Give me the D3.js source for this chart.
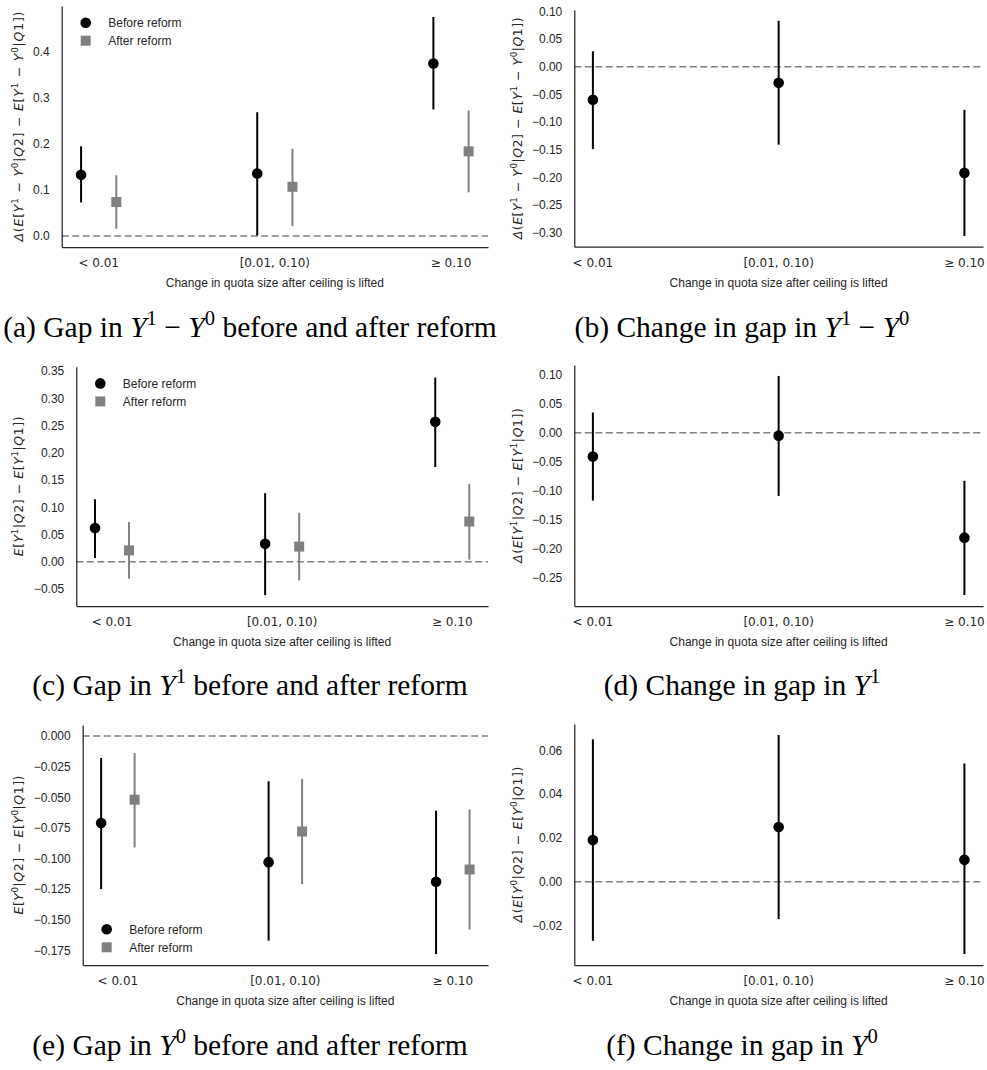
<!DOCTYPE html>
<html>
<head>
<meta charset="utf-8">
<script src="https://cdn.jsdelivr.net/npm/d3@7"></script>
<style>
  body { margin: 0; background: #fff; }
  svg { display: block; }
  text { white-space: pre; }
</style>
</head>
<body>
<div id="chart"></div>
<script>
// Categories (x axis), written with $...$ for the math parts
const categories = ["$< 0.01$", "$[0.01, 0.10)$", "$≥ 0.10$"];
const xTitle = "Change in quota size after ceiling is lifted";

// (a) gap in Y1 - Y0, before / after reform
const aBefore   = [0.133, 0.136, 0.375];
const aBeforeLo = [0.073, 0.001, 0.275];
const aBeforeHi = [0.195, 0.269, 0.476];
const aAfter    = [0.074, 0.107, 0.184];
const aAfterLo  = [0.016, 0.022, 0.095];
const aAfterHi  = [0.132, 0.190, 0.273];
const aTicks = [0.0, 0.1, 0.2, 0.3, 0.4];

// (b) change in gap in Y1 - Y0
const bChange   = [-0.060, -0.029, -0.192];
const bChangeLo = [-0.149, -0.141, -0.306];
const bChangeHi = [0.028, 0.083, -0.078];
const bTicks = [0.10, 0.05, 0.00, -0.05, -0.10, -0.15, -0.20, -0.25, -0.30];

// (c) gap in Y1, before / after reform
const cBefore   = [0.062, 0.033, 0.257];
const cBeforeLo = [0.007, -0.061, 0.174];
const cBeforeHi = [0.115, 0.126, 0.338];
const cAfter    = [0.021, 0.028, 0.074];
const cAfterLo  = [-0.031, -0.034, 0.004];
const cAfterHi  = [0.073, 0.090, 0.143];
const cTicks = [0.35, 0.30, 0.25, 0.20, 0.15, 0.10, 0.05, 0.00, -0.05];

// (d) change in gap in Y1
const dChange   = [-0.041, -0.005, -0.181];
const dChangeLo = [-0.117, -0.109, -0.280];
const dChangeHi = [0.035, 0.098, -0.083];
const dTicks = [0.10, 0.05, 0.00, -0.05, -0.10, -0.15, -0.20, -0.25];

// (e) gap in Y0, before / after reform
const eBefore   = [-0.071, -0.103, -0.119];
const eBeforeLo = [-0.125, -0.167, -0.178];
const eBeforeHi = [-0.018, -0.037, -0.061];
const eAfter    = [-0.052, -0.078, -0.109];
const eAfterLo  = [-0.091, -0.121, -0.158];
const eAfterHi  = [-0.014, -0.035, -0.060];
const eTicks = [0.000, -0.025, -0.050, -0.075, -0.100, -0.125, -0.150, -0.175];

// (f) change in gap in Y0
const fChange   = [0.019, 0.025, 0.010];
const fChangeLo = [-0.027, -0.017, -0.033];
const fChangeHi = [0.065, 0.067, 0.054];
const fTicks = [0.06, 0.04, 0.02, 0.00, -0.02];

const legendLabels = ["Before reform", "After reform"];

// colours / fonts
const INK = "#262626";
const BEFORE_COL = "#000000";
const AFTER_COL = "#808080";
const SANS = "'Liberation Sans', Arial, sans-serif";
const MATH = "'DejaVu Sans', sans-serif";
const SERIF = "'Liberation Serif', 'Times New Roman', serif";

// panel layout (pixel boxes of each axes, label lengths)
const panels = [
  { caption: "(a) Gap in $Y^1 − Y^0$ before and after reform",
    ylabel: "$Δ(E[Y^1 − Y^0|Q2] − E[Y^1 − Y^0|Q1])$", ylen: 230,
    before: [aBefore, aBeforeLo, aBeforeHi], after: [aAfter, aAfterLo, aAfterHi],
    ticks: aTicks, fmt: ".1f", legend: "top",
    box: { l: 61.7, r: 488, t: 6, b: 247 }, col: 0, capY: 337 },
  { caption: "(b) Change in gap in $Y^1 − Y^0$",
    ylabel: "$Δ(E[Y^1 − Y^0|Q2] − E[Y^1 − Y^0|Q1])$", ylen: 222,
    before: [bChange, bChangeLo, bChangeHi],
    ticks: bTicks, fmt: ".2f",
    box: { l: 574.3, r: 983, t: 10, b: 246.7 }, col: 1, capY: 337 },
  { caption: "(c) Gap in $Y^1$ before and after reform",
    ylabel: "$E[Y^1|Q2] − E[Y^1|Q1])$", ylen: 140,
    before: [cBefore, cBeforeLo, cBeforeHi], after: [cAfter, cAfterLo, cAfterHi],
    ticks: cTicks, fmt: ".2f", legend: "top",
    box: { l: 76.3, r: 488, t: 366.7, b: 606 }, col: 0, capY: 695 },
  { caption: "(d) Change in gap in $Y^1$",
    ylabel: "$Δ(E[Y^1|Q2] − E[Y^1|Q1])$", ylen: 155,
    before: [dChange, dChangeLo, dChangeHi],
    ticks: dTicks, fmt: ".2f",
    box: { l: 574.3, r: 983, t: 365, b: 606 }, col: 1, capY: 695 },
  { caption: "(e) Gap in $Y^0$ before and after reform",
    ylabel: "$E[Y^0|Q2] − E[Y^0|Q1])$", ylen: 139,
    before: [eBefore, eBeforeLo, eBeforeHi], after: [eAfter, eAfterLo, eAfterHi],
    ticks: eTicks, fmt: ".3f", legend: "bottom",
    box: { l: 82.7, r: 488, t: 725, b: 965 }, col: 0, capY: 1055 },
  { caption: "(f) Change in gap in $Y^0$",
    ylabel: "$Δ(E[Y^0|Q2] − E[Y^0|Q1])$", ylen: 156,
    before: [fChange, fChangeLo, fChangeHi],
    ticks: fTicks, fmt: ".2f",
    box: { l: 574.3, r: 983, t: 724, b: 965 }, col: 1, capY: 1055 }
];

const svg = d3.select("#chart")
  .append("svg")
    .attr("width", 987)
    .attr("height", 1070);

// write "text $math$ text" into a <text> node: letters in math are italic, ^x is superscript
function mathText(textSel, str, mathFamily, size) {
  const tokens = [];
  str.split("$").forEach((part, k) => {
    if (k % 2 === 0) {
      if (part) tokens.push({ t: part, it: false, sup: false, math: false });
      return;
    }
    for (let i = 0; i < part.length; i++) {
      const ch = part[i];
      if (ch === "^") {
        tokens.push({ t: part[i + 1], it: false, sup: true, math: true });
        i++;
      } else {
        tokens.push({ t: ch, it: /[A-Za-zΔ]/.test(ch), sup: false, math: true });
      }
    }
  });
  // merge runs with the same style
  const runs = [];
  tokens.forEach(tk => {
    const last = runs[runs.length - 1];
    if (last && last.it === tk.it && last.sup === tk.sup && last.math === tk.math) last.t += tk.t;
    else runs.push(Object.assign({}, tk));
  });
  const rise = size * 0.42;
  let up = false;
  runs.forEach(run => {
    const ts = textSel.append("tspan").text(run.t);
    if (run.math) ts.attr("font-family", mathFamily);
    if (run.it) ts.attr("font-style", "italic");
    if (run.sup) {
      ts.attr("font-size", size * 0.7);
      if (!up) { ts.attr("dy", -rise); up = true; }
    } else if (up) {
      ts.attr("dy", rise); up = false;
    }
  });
}

panels.forEach(p => {
  const { l, r, t, b } = p.box;
  const g = svg.append("g");

  const series = [{ vals: p.before, off: p.after ? -0.1 : 0, color: BEFORE_COL, shape: "circle" }];
  if (p.after) series.push({ vals: p.after, off: 0.1, color: AFTER_COL, shape: "square" });

  // matplotlib-like autoscale with 5% margins
  const xs = [];
  series.forEach(s => categories.forEach((c, i) => xs.push(i + s.off)));
  const xExt = d3.extent(xs);
  const xPad = (xExt[1] - xExt[0]) * 0.05;
  const x = d3.scaleLinear().domain([xExt[0] - xPad, xExt[1] + xPad]).range([l, r]);

  const ys = [0];
  series.forEach(s => { ys.push(...s.vals[1], ...s.vals[2]); });
  const yExt = d3.extent(ys);
  const yPad = (yExt[1] - yExt[0]) * 0.05;
  const y = d3.scaleLinear().domain([yExt[0] - yPad, yExt[1] + yPad]).range([b, t]);

  // zero line
  g.append("line")
    .attr("x1", l).attr("x2", r)
    .attr("y1", y(0)).attr("y2", y(0))
    .attr("stroke", AFTER_COL)
    .attr("stroke-width", 1.5)
    .attr("stroke-dasharray", "7,3.5");

  // y axis
  const yAxis = g.append("g")
    .attr("transform", `translate(${l},0)`)
    .call(d3.axisLeft(y).tickValues(p.ticks).tickFormat(d3.format(p.fmt)).tickSize(0).tickSizeOuter(0).tickPadding(12));
  yAxis.select(".domain").attr("stroke", INK).attr("stroke-width", 1.25);
  yAxis.selectAll("text")
    .attr("font-family", SANS).attr("font-size", 12).attr("fill", INK);

  // x axis
  const xAxis = g.append("g")
    .attr("transform", `translate(0,${b})`)
    .call(d3.axisBottom(x).tickValues([0, 1, 2]).tickFormat(() => "").tickSize(0).tickSizeOuter(0));
  xAxis.select(".domain").attr("stroke", INK).attr("stroke-width", 1.25);
  xAxis.selectAll(".tick text").remove();
  categories.forEach((c, i) => {
    const tx = g.append("text")
      .attr("x", x(i)).attr("y", b + 20)
      .attr("text-anchor", "middle")
      .attr("font-family", MATH).attr("font-size", 12).attr("fill", INK);
    mathText(tx, c, MATH, 12);
  });

  // x title
  g.append("text")
    .attr("x", (l + r) / 2).attr("y", b + 40)
    .attr("text-anchor", "middle")
    .attr("font-family", SANS).attr("font-size", 12).attr("fill", INK)
    .text(xTitle);

  // y title
  const yx = p.col === 0 ? 23 : 522;
  const yt = g.append("text")
    .attr("transform", `translate(${yx},${(t + b) / 2}) rotate(-90)`)
    .attr("text-anchor", "middle")
    .attr("textLength", p.ylen).attr("lengthAdjust", "spacing")
    .attr("font-family", MATH).attr("font-size", 12.5).attr("fill", INK);
  mathText(yt, p.ylabel, MATH, 12.5);

  // error bars and points
  series.forEach(s => {
    const [est, lo, hi] = s.vals;
    categories.forEach((c, i) => {
      const cx = x(i + s.off);
      g.append("line")
        .attr("x1", cx).attr("x2", cx)
        .attr("y1", y(lo[i])).attr("y2", y(hi[i]))
        .attr("stroke", s.color).attr("stroke-width", 2);
      if (s.shape === "circle") {
        g.append("circle").attr("cx", cx).attr("cy", y(est[i])).attr("r", 5.3).attr("fill", s.color);
      } else {
        g.append("rect").attr("x", cx - 5).attr("y", y(est[i]) - 5)
          .attr("width", 10).attr("height", 10).attr("fill", s.color);
      }
    });
  });

  // legend
  if (p.legend) {
    const ly = p.legend === "top" ? t + 16.7 : b - 35.7;
    const lg = g.append("g").attr("transform", `translate(${l + 24},${ly})`);
    legendLabels.forEach((lab, i) => {
      const row = lg.append("g").attr("transform", `translate(0,${i * 18})`);
      if (i === 0) row.append("circle").attr("r", 5.3).attr("fill", BEFORE_COL);
      else row.append("rect").attr("x", -5).attr("y", -5).attr("width", 10).attr("height", 10).attr("fill", AFTER_COL);
      row.append("text")
        .attr("x", 22.5).attr("y", 0).attr("dy", "0.35em")
        .attr("font-family", SANS).attr("font-size", 12).attr("fill", INK)
        .text(lab);
    });
  }

  // caption
  const cap = svg.append("text")
    .attr("x", p.col === 0 ? 250 : 742).attr("y", p.capY)
    .attr("text-anchor", "middle")
    .attr("font-family", SERIF).attr("font-size", 29.5).attr("fill", "#000");
  mathText(cap, p.caption, SERIF, 29.5);
});
</script>
</body>
</html>
